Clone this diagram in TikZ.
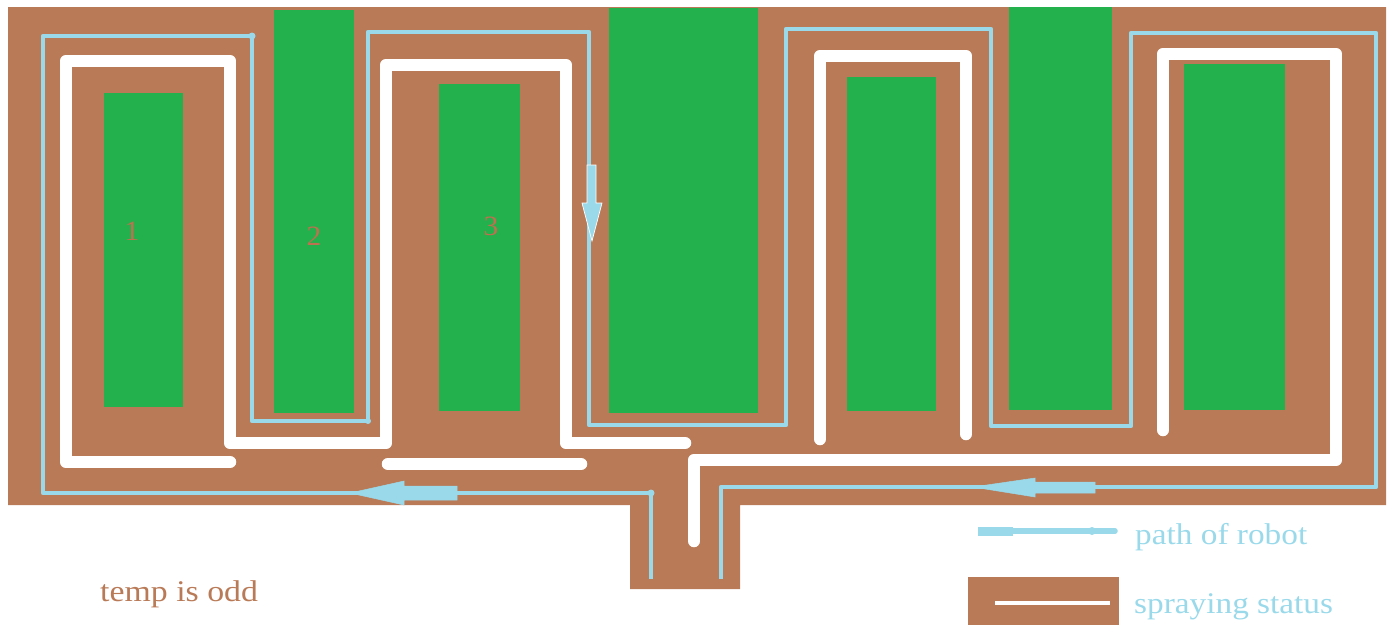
\documentclass[tikz,border=0pt]{standalone}
\usepackage{fontspec}
\setmainfont{Liberation Serif}
\definecolor{FIELDbrown}{HTML}{B97A57}
\definecolor{PLOTgreen}{HTML}{22B14C}
\definecolor{ROBOTblue}{HTML}{99D9EA}
\tikzset{plotbox/.style={fill=PLOTgreen},
 sprayline/.style={draw=white,line width=12.5pt,line cap=round,line join=round},
 robotline/.style={draw=ROBOTblue,line width=4.6pt,line join=round},
 robotarrow/.style={fill=ROBOTblue,draw=ROBOTblue,line width=0.5pt},
 plotlabel/.style={text=FIELDbrown!92!red,font=\fontsize{28}{28}\selectfont,xscale=1.05,inner sep=0pt},
 legendlabel/.style={text=ROBOTblue,font=\fontsize{30}{30}\selectfont,xscale=1.11,inner sep=0pt}}
\begin{document}
\begin{tikzpicture}[x=1pt,y=-1pt]
\useasboundingbox (0,0) rectangle (1392,627);
\fill[FIELDbrown] (8,7)--(1386,7)--(1386,505)--(740,505)--(740,589)--(630,589)--(630,505)--(8,505)--cycle;
\fill[plotbox] (104,93) rectangle (183,407);
\fill[plotbox] (274,10) rectangle (354,413);
\fill[plotbox] (439,84) rectangle (520,411);
\fill[plotbox] (609,8) rectangle (758,413);
\fill[plotbox] (847,77) rectangle (936,411);
\fill[plotbox] (1009,7) rectangle (1112,410);
\fill[plotbox] (1184,64) rectangle (1285,410);
\draw[sprayline] (230,462)--(66,462)--(66,61)--(230,61)--(230,443)--(386,443)--(386,65)--(566,65)--(566,443)--(685,443);
\draw[sprayline] (388,464)--(581,464);
\draw[sprayline] (820,439)--(820,56)--(966,56)--(966,434);
\draw[sprayline] (1163,430)--(1163,54)--(1336,54)--(1336,460)--(694,460)--(694,541);
\draw[robotline] (651,579)--(651,493)--(43,493)--(43,36)--(252,36)--(252,421)--(368,421)--(368,32)--(589,32)--(589,425)--(786,425)--(786,29)--(991,29)--(991,426)--(1131,426)--(1131,33)--(1376,33)--(1376,487)--(721,487)--(721,579);
\fill[ROBOTblue] (252,36) circle (3.5pt) (651,493) circle (3.5pt) (368,421) circle (3pt);
\fill[robotarrow] (457,486)--(404,486)--(404,481)--(350,493)--(404,505)--(404,500)--(457,500)--cycle;
\fill[robotarrow] (1095,482)--(1035,482)--(1035,478)--(973,487)--(1035,497)--(1035,493)--(1095,493)--cycle;
\filldraw[ROBOTblue,draw=white,line width=0.7pt] (587,165)--(596,165)--(596,203)--(602,203)--(592,241)--(582,203)--(587,203)--cycle;
\node[plotlabel] (plotone) at (132,231) {1};
\node[plotlabel] (plottwo) at (314,236) {2};
\node[plotlabel] (plotthree) at (491,226) {3};
\node[text=FIELDbrown,font=\fontsize{30}{30}\selectfont,xscale=1.127,inner sep=0pt,anchor=base west] (oddlabel) at (100,601) {temp is odd};
\fill[ROBOTblue] (978,527) rectangle (1013,536);
\draw[ROBOTblue,line width=5.5pt,line cap=round] (1013,531)--(1115,531);
\fill[ROBOTblue] (1092,531) circle (4pt);
\node[legendlabel,anchor=base west] (pathlabel) at (1135,544) {path of robot};
\fill[FIELDbrown] (968,577) rectangle (1119,625);
\draw[draw=white,line width=4pt] (995,603)--(1110,603);
\node[legendlabel,anchor=base west] (spraylabel) at (1134,613) {spraying status};
\end{tikzpicture}
\end{document}
